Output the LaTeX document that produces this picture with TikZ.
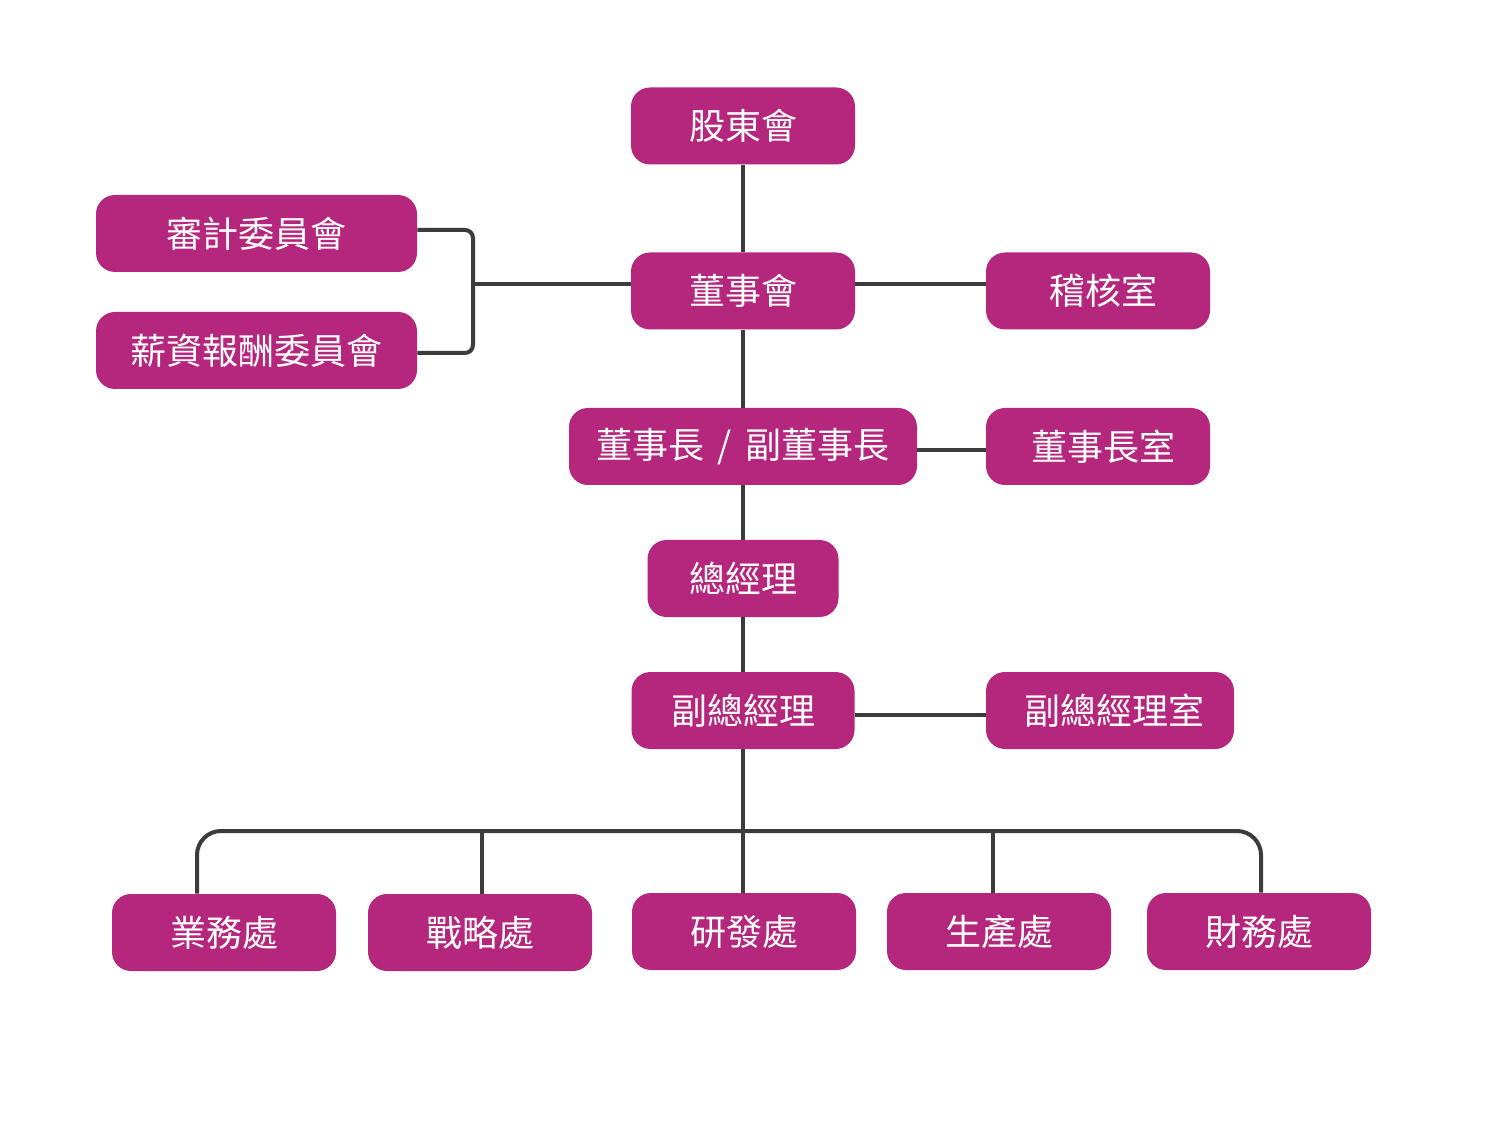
\documentclass[tikz,border=0pt]{standalone}
\usepackage{fontspec}
\newfontfamily\cjk{Noto Sans CJK TC}
\definecolor{boxfill}{RGB}{181,38,125}
\definecolor{linecol}{RGB}{60,60,60}
\begin{document}
\begin{tikzpicture}[x=0.5pt,y=-0.5pt,
  orgbox/.style={draw=none,fill=boxfill,rounded corners=9.5pt,text=white,
    font=\cjk\fontsize{18pt}{20pt}\selectfont,inner sep=0pt,
    minimum height=38.5pt,minimum width=112pt},
  conn/.style={draw=linecol,line width=2pt}]
\useasboundingbox[fill=white] (0,0) rectangle (1504,1122);
% nodes
\node[orgbox] (gd) at (743,126) {股東會};
\node[orgbox,minimum width=160.5pt] (audit) at (256.5,233.5) {審計委員會};
\node[orgbox] (board) at (743,291) {董事會};
\node[orgbox] (aud) at (1098,291) {\hspace{5pt}稽核室};
\node[orgbox,minimum width=160.5pt] (pay) at (256.5,350.5) {薪資報酬委員會};
\node[orgbox,minimum width=174pt] (chair) at (743,446.5) {董事長\hspace{6.5pt}/\hspace{6.5pt}副董事長};
\node[orgbox] (chairoff) at (1098,446.5) {\hspace{5pt}董事長室};
\node[orgbox,minimum width=95.5pt] (gm) at (743,578.5) {總經理};
\node[orgbox,minimum width=111.5pt] (vgm) at (743,710.5) {副總經理};
\node[orgbox,minimum width=124pt] (vgmoff) at (1110,710.5) {\hspace{4pt}副總經理室};
\node[orgbox] (b1) at (224,932.5) {業務處\hspace{5pt}};
\node[orgbox] (b2) at (480,932.5) {戰略處\hspace{4pt}};
\node[orgbox] (b3) at (744,931.5) {研發處\hspace{4pt}};
\node[orgbox] (b4) at (999,931.5) {生產處\hspace{4pt}};
\node[orgbox] (b5) at (1259,931.5) {財務處\hspace{4pt}};
% helper coordinates
\coordinate (brk) at (473,284);
\coordinate (bus) at (743,831);
\coordinate (d1) at (197,831);
\coordinate (d2) at (482,831);
\coordinate (d4) at (993,831);
\coordinate (d5) at (1261,831);
% connectors
\draw[conn] (gd.south) -- (board.north);
\draw[conn] (board.south) -- (chair.north);
\draw[conn] (chair.south) -- (gm.north);
\draw[conn] (gm.south) -- (vgm.north);
\draw[conn] (vgm.south) -- (bus) -- (bus |- b3.north);
\draw[conn] ([yshift=3.5pt]board.east) -- ([yshift=3.5pt]aud.west);
\draw[conn] ([yshift=3.5pt]board.west) -- (brk);
\draw[conn,rounded corners=4pt] ([yshift=1.75pt]audit.east) -| (brk) |- ([yshift=-1.25pt]pay.east);
\draw[conn] ([yshift=-1.75pt]chair.east) -- ([yshift=-1.75pt]chairoff.west);
\draw[conn] ([yshift=-2.25pt]vgm.east) -- ([yshift=-2.25pt]vgmoff.west);
\draw[conn,rounded corners=12pt] (d1 |- b1.north) -- (d1) -- (d5) -- (d5 |- b5.north);
\draw[conn] (d2) -- (d2 |- b2.north);
\draw[conn] (d4) -- (d4 |- b4.north);
\end{tikzpicture}
\end{document}
